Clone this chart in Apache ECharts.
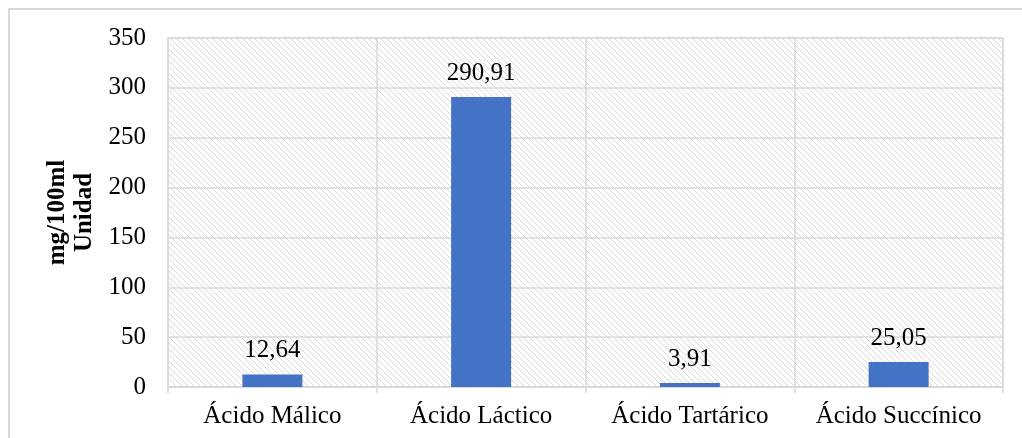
<!DOCTYPE html>
<html>
<head>
<meta charset="utf-8">
<script src="https://cdn.jsdelivr.net/npm/echarts@6/dist/echarts.min.js"></script>
<style>
  html, body { margin: 0; padding: 0; background: #fff; overflow: hidden; }
  #frame { position: absolute; left: 8px; top: 8px; width: 1040px; height: 460px; border: 2px solid #d9d9d9; box-sizing: border-box; }
  #mychart { position: absolute; left: 0; top: 0; width: 1022px; height: 438px; }
</style>
</head>
<body>
<div id="frame"></div>
<div id="mychart"></div>
<script>
const categories = ['Ácido Málico', 'Ácido Láctico', 'Ácido Tartárico', 'Ácido Succínico']
const values = [12.64, 290.91, 3.91, 25.05]
const yTicks = { min: 0, max: 350, interval: 50 }

// diagonal hatch for the plot background
function hatch () {
  const c = document.createElement('canvas')
  c.width = 6
  c.height = 6
  const ctx = c.getContext('2d')
  ctx.fillStyle = '#ffffff'
  ctx.fillRect(0, 0, 6, 6)
  ctx.strokeStyle = '#d8d8d8'
  ctx.lineWidth = 1
  ctx.beginPath()
  ctx.moveTo(-1, -1); ctx.lineTo(7, 7)
  ctx.moveTo(-1, 5); ctx.lineTo(1, 7)
  ctx.moveTo(5, -1); ctx.lineTo(7, 1)
  ctx.stroke()
  return { image: c, repeat: 'repeat' }
}

const font = 'Liberation Serif'
const myChart = echarts.init(document.getElementById('mychart'))
myChart.setOption({
  animation: false,
  grid: {
    left: 168,
    right: 19,
    top: 38,
    bottom: 51,
    show: true,
    backgroundColor: hatch(),
    borderColor: '#d9d9d9',
    borderWidth: 1.5
  },
  xAxis: {
    type: 'category',
    data: categories,
    axisLine: { lineStyle: { color: '#d9d9d9', width: 1.5 } },
    axisTick: { show: true, interval: 0, length: 6, lineStyle: { color: '#d9d9d9', width: 1.5 } },
    splitLine: { show: true, interval: 0, lineStyle: { color: '#d9d9d9', width: 1.5 } },
    axisLabel: { color: '#000', fontFamily: font, fontSize: 25, margin: 17, interval: 0, hideOverlap: false }
  },
  yAxis: {
    type: 'value',
    min: yTicks.min,
    max: yTicks.max,
    interval: yTicks.interval,
    name: 'mg/100ml\nUnidad',
    nameLocation: 'middle',
    nameRotate: 90,
    nameGap: 70,
    nameTextStyle: { color: '#000', fontFamily: font, fontSize: 25, fontWeight: 'bold', lineHeight: 27 },
    axisLine: { show: false },
    axisTick: { show: false },
    splitLine: { lineStyle: { color: '#d9d9d9', width: 1.5 } },
    axisLabel: { color: '#000', fontFamily: font, fontSize: 25, margin: 22 }
  },
  series: [
    {
      type: 'bar',
      data: values,
      barWidth: 60,
      itemStyle: { color: '#4472C4' },
      label: {
        show: true,
        position: 'top',
        distance: 11,
        color: '#000',
        fontFamily: font,
        fontSize: 25,
        formatter: p => p.value.toFixed(2).replace('.', ',')
      }
    }
  ]
})
</script>
</body>
</html>
